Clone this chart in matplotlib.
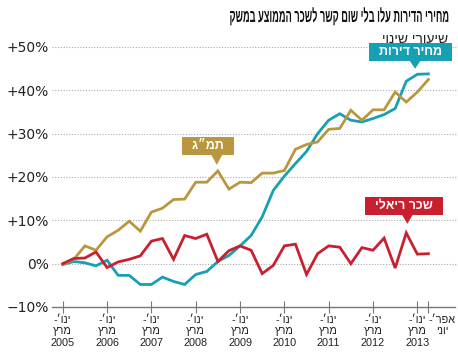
import matplotlib
matplotlib.use("Agg")
import matplotlib.pyplot as plt
from matplotlib.patches import Polygon
from matplotlib.transforms import Affine2D
from matplotlib import patheffects

# quarterly change since Jan-Mar 2005, percent
quarters = list(range(34))
house_prices = [-0.2, 0.5, 0.2, -0.5, 0.8, -2.7, -2.7, -4.8, -4.8, -3.1,
                -4.1, -4.8, -2.5, -1.8, 0.5, 1.9, 4.1, 6.5, 10.8, 16.9,
                20.2, 23.1, 25.9, 30.0, 33.1, 34.6, 33.1, 32.7, 33.5, 34.4,
                35.8, 42.1, 43.7, 43.8]
gdp = [-0.2, 1.0, 4.1, 3.1, 6.2, 7.7, 9.8, 7.5, 11.9, 12.8,
       14.8, 14.9, 18.8, 18.8, 21.4, 17.2, 18.8, 18.7, 20.9, 20.9,
       21.5, 26.4, 27.5, 28.1, 31.0, 31.2, 35.4, 33.1, 35.5, 35.5,
       39.6, 37.3, 39.6, 42.5]
real_wage = [0.0, 1.2, 1.3, 2.7, -0.9, 0.4, 1.0, 1.8, 5.2, 5.8,
             1.0, 6.5, 5.8, 6.8, 0.5, 3.0, 4.1, 3.1, -2.3, -0.4,
             4.1, 4.5, -2.5, 2.3, 4.1, 3.8, 0.0, 3.7, 3.1, 5.9,
             -1.0, 7.1, 2.2, 2.3]

years = ["2005", "2006", "2007", "2008", "2009", "2010", "2011", "2012", "2013"]
y_ticks = [-10, 0, 10, 20, 30, 40, 50]
y_labels = ["\u221210%", "0%", "+10%", "+20%", "+30%", "+40%", "+50%"]

title = "מחירי הדירות עלו בלי שום קשר לשכר הממוצע במשק"
subtitle = "שיעורי שינוי"
name_prices = "מחיר דירות"
name_gdp = "תמ״ג"
name_wage = "שכר ריאלי"

TEAL = "#17a0b4"
GOLD = "#b9973f"
RED = "#c9202f"
FONTS = ["DejaVu Sans"]
HEB = ["Liberation Sans", "DejaVu Sans"]


def heb(s):
    # matplotlib draws glyphs left to right, so flip the hebrew by hand
    return s[::-1]


class Squeeze(patheffects.AbstractPathEffect):
    # narrow the glyphs horizontally around x0 (pixels), like a condensed face
    def __init__(self, sx, x0):
        super().__init__()
        self.sx = sx
        self.x0 = x0

    def draw_path(self, renderer, gc, tpath, affine, rgbFace=None):
        sq = Affine2D().translate(-self.x0, 0).scale(self.sx, 1).translate(self.x0, 0)
        renderer.draw_path(gc, tpath, affine + sq, rgbFace)


def tag(ax, text, x, y, tip_x, tip_y, color):
    ax.text(x, y, heb("  " + text + "  "), ha="center", va="center",
            color="white", fontsize=9, fontweight="bold", family=HEB,
            zorder=6, bbox=dict(boxstyle="square,pad=0.22", fc=color, ec="none"),
            clip_on=False)
    # pointer below the box, its upper part hides under the box
    yb = y - 1.75
    w = 0.55
    ptr = Polygon([[tip_x, tip_y], [tip_x + w, yb], [tip_x + w, y],
                   [tip_x - w, y], [tip_x - w, yb]], closed=True,
                  fc=color, ec="none", zorder=5.5, clip_on=False)
    ax.add_patch(ptr)


fig = plt.figure(figsize=(4.58, 3.54), dpi=100)
ax = fig.add_axes([52 / 458, 47 / 354, 403 / 458, 260 / 354])

for v in y_ticks[1:]:
    ax.axhline(v, color="#aaaaaa", lw=0.8, ls=(0, (1, 1.5)), zorder=1,
               xmin=0, xmax=1.01, clip_on=False)

ax.plot(quarters, house_prices, color=TEAL, lw=2, zorder=3,
        solid_joinstyle="miter")
ax.plot(quarters, gdp, color=GOLD, lw=2, zorder=3, solid_joinstyle="miter")
ax.plot(quarters, real_wage, color=RED, lw=2, zorder=4,
        solid_joinstyle="miter")

tag(ax, name_prices, 31.4, 48.8, 31.8, 45.0, TEAL)
tag(ax, name_gdp, 13.1, 27.1, 13.9, 22.8, GOLD)
tag(ax, name_wage, 30.8, 13.3, 31.1, 9.2, RED)

ax.set_xlim(-0.97, 35.4)
ax.set_ylim(-10, 50)

ticks = [4 * k for k in range(len(years))] + [33]
labels = [heb("ינו׳-") + "\n" + heb("מרץ") + "\n" + y for y in years]
labels.append(heb("אפר׳-") + "\n" + heb("יוני"))
ax.set_xticks(ticks)
ax.set_xticklabels(labels, fontsize=7.8, family=HEB, linespacing=1.2,
                   color="#222222")
last = ax.get_xticklabels()[-1]
last.set_horizontalalignment("left")
last.set_multialignment("center")
ax.tick_params(axis="x", direction="inout", length=9, width=0.8,
               color="#777777", pad=1)

ax.set_yticks(y_ticks)
ax.set_yticklabels(y_labels, fontsize=10, family=FONTS, color="#222222")
ax.tick_params(axis="y", length=0, pad=2)

for side in ["top", "right", "left"]:
    ax.spines[side].set_visible(False)
ax.spines["bottom"].set_color("#777777")
ax.spines["bottom"].set_linewidth(1)

fig.text(448 / 458, 1 - 17 / 354, heb(title), ha="right", va="center",
         fontsize=13, fontweight="bold", family=HEB, color="#111111",
         path_effects=[Squeeze(0.51, 448)])
fig.text(448 / 458, 1 - 39 / 354, heb(subtitle), ha="right", va="center",
         fontsize=10, family=HEB, color="#222222")

fig.savefig("out.png", dpi=100)
